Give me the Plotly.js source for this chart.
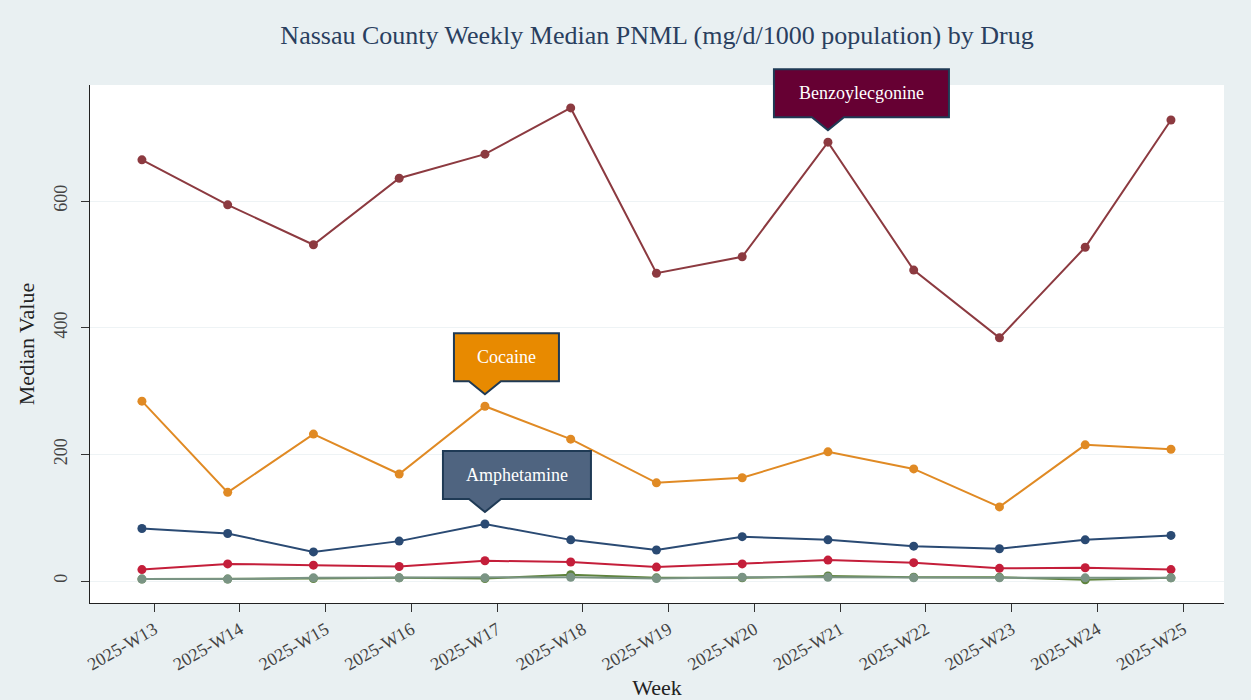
<!DOCTYPE html>
<html>
<head>
<meta charset="utf-8">
<script src="https://cdn.plot.ly/plotly-3.0.1.min.js"></script>
<style>
  html, body { margin: 0; padding: 0; background: #e9f0f2; }
  #chart { width: 1251px; height: 700px; }
</style>
</head>
<body>
<div id="chart"></div>
<script>
// ---- Data ----
const weeks = ["2025-W13","2025-W14","2025-W15","2025-W16","2025-W17","2025-W18","2025-W19",
               "2025-W20","2025-W21","2025-W22","2025-W23","2025-W24","2025-W25"];
const weekDates = ["2025-03-29","2025-04-05","2025-04-12","2025-04-19","2025-04-26","2025-05-03",
                   "2025-05-10","2025-05-17","2025-05-24","2025-05-31","2025-06-07","2025-06-14","2025-06-21"];

const benzoylecgonine = [665, 594, 531, 636, 674, 747, 486, 512, 693, 491, 384, 527, 728];
const cocaine         = [284, 140, 232, 169, 276, 224, 155, 163, 204, 177, 117, 215, 208];
const amphetamine     = [83, 75, 46, 63, 90, 65, 49, 70, 65, 55, 51, 65, 72];
const drugD           = [18, 27, 25, 23, 32, 30, 22, 27, 33, 29, 20, 21, 18];
const drugE           = [3, 3, 4, 5, 4, 10, 5, 5, 8, 6, 6, 2, 5];
const drugF           = [3, 3, 5, 5, 5, 6, 4, 6, 6, 5, 5, 5, 5];

const seriesNames  = ["Benzoylecgonine","Cocaine","Amphetamine","Drug D","Drug E","Drug F"];
const seriesValues = [benzoylecgonine, cocaine, amphetamine, drugD, drugE, drugF];
const seriesColors = ["#8c3a40","#e08a24","#2a4a73","#c41e3a","#5e833c","#7a9484"];

// callouts (label boxes pointing at a series value)
const callouts = [
  {name: "Benzoylecgonine", series: 0, week: 8, color: "#660033", left: -54, right: 121},
  {name: "Cocaine",         series: 1, week: 4, color: "#e88a00", left: -31, right: 74},
  {name: "Amphetamine",     series: 2, week: 4, color: "#4f6480", left: -42, right: 106}
];

const yRange = [-34.7, 783.2];

// ---- Build ----
const DAY = 864e5;
const toMs = d => Date.parse(d + "T00:00:00Z");
const tickvals = weekDates.map(d => new Date(toMs(d) + DAY).toISOString().slice(0, 10));

const traces = seriesNames.map((n, i) => ({
  type: "scatter",
  mode: "lines+markers",
  name: n,
  x: weekDates,
  y: seriesValues[i],
  line: {color: seriesColors[i], width: 2},
  marker: {color: seriesColors[i], size: 9},
  showlegend: false
}));

const serif = "Liberation Serif, Times New Roman, serif";
const shapes = [];
const annotations = [];
callouts.forEach(c => {
  const x = weekDates[c.week];
  const y = seriesValues[c.series][c.week];
  const yFrac = (y - yRange[0]) / (yRange[1] - yRange[0]);
  const bottom = 25, top = 73, tip = 12, half = 16;
  shapes.push({
    type: "path", xref: "x", yref: "paper",
    xsizemode: "pixel", ysizemode: "pixel",
    xanchor: x, yanchor: yFrac,
    path: `M ${c.left} ${bottom} L ${-half} ${bottom} L 0 ${tip} L ${half} ${bottom} L ${c.right} ${bottom} L ${c.right} ${top} L ${c.left} ${top} Z`,
    fillcolor: c.color,
    line: {color: "#1f3a55", width: 2},
    layer: "above"
  });
  annotations.push({
    x: x, y: y, xref: "x", yref: "y",
    text: c.name, showarrow: false,
    xshift: (c.left + c.right) / 2, yshift: (bottom + top) / 2,
    font: {family: serif, size: 18, color: "#ffffff"}
  });
});

const layout = {
  width: 1251, height: 700,
  paper_bgcolor: "#e9f0f2",
  plot_bgcolor: "#ffffff",
  margin: {l: 90, r: 27, t: 85, b: 97},
  title: {
    text: "Nassau County Weekly Median PNML (mg/d/1000 population) by Drug",
    font: {family: serif, size: 26, color: "#2a3f5f"},
    xref: "paper", x: 0.5, xanchor: "center", y: 0.95, yanchor: "middle"
  },
  font: {family: serif, color: "#444444"},
  xaxis: {
    type: "date",
    range: [toMs(weekDates[0]) - 4.24 * DAY, toMs(weekDates[weekDates.length - 1]) + 4.33 * DAY],
    tickmode: "array",
    tickvals: tickvals,
    ticktext: weeks,
    tickangle: -30,
    tickfont: {family: serif, size: 18, color: "#444444"},
    ticks: "outside", ticklen: 8, tickcolor: "#333333",
    showline: true, linecolor: "#222222", linewidth: 1,
    showgrid: false, zeroline: false,
    title: {text: "Week", font: {family: serif, size: 22, color: "#222222"}, standoff: 6}
  },
  yaxis: {
    range: yRange,
    tickvals: [0, 200, 400, 600],
    tickangle: -90,
    tickfont: {family: serif, size: 18, color: "#444444"},
    ticks: "outside", ticklen: 8, tickcolor: "#333333",
    ticklabelstandoff: 7,
    showline: true, linecolor: "#222222", linewidth: 1,
    showgrid: true, gridcolor: "#eef3f5", zeroline: false,
    title: {text: "Median Value", font: {family: serif, size: 22, color: "#222222"}, standoff: 10}
  },
  shapes: shapes,
  annotations: annotations
};

Plotly.newPlot("chart", traces, layout, {displayModeBar: false});
</script>
</body>
</html>
